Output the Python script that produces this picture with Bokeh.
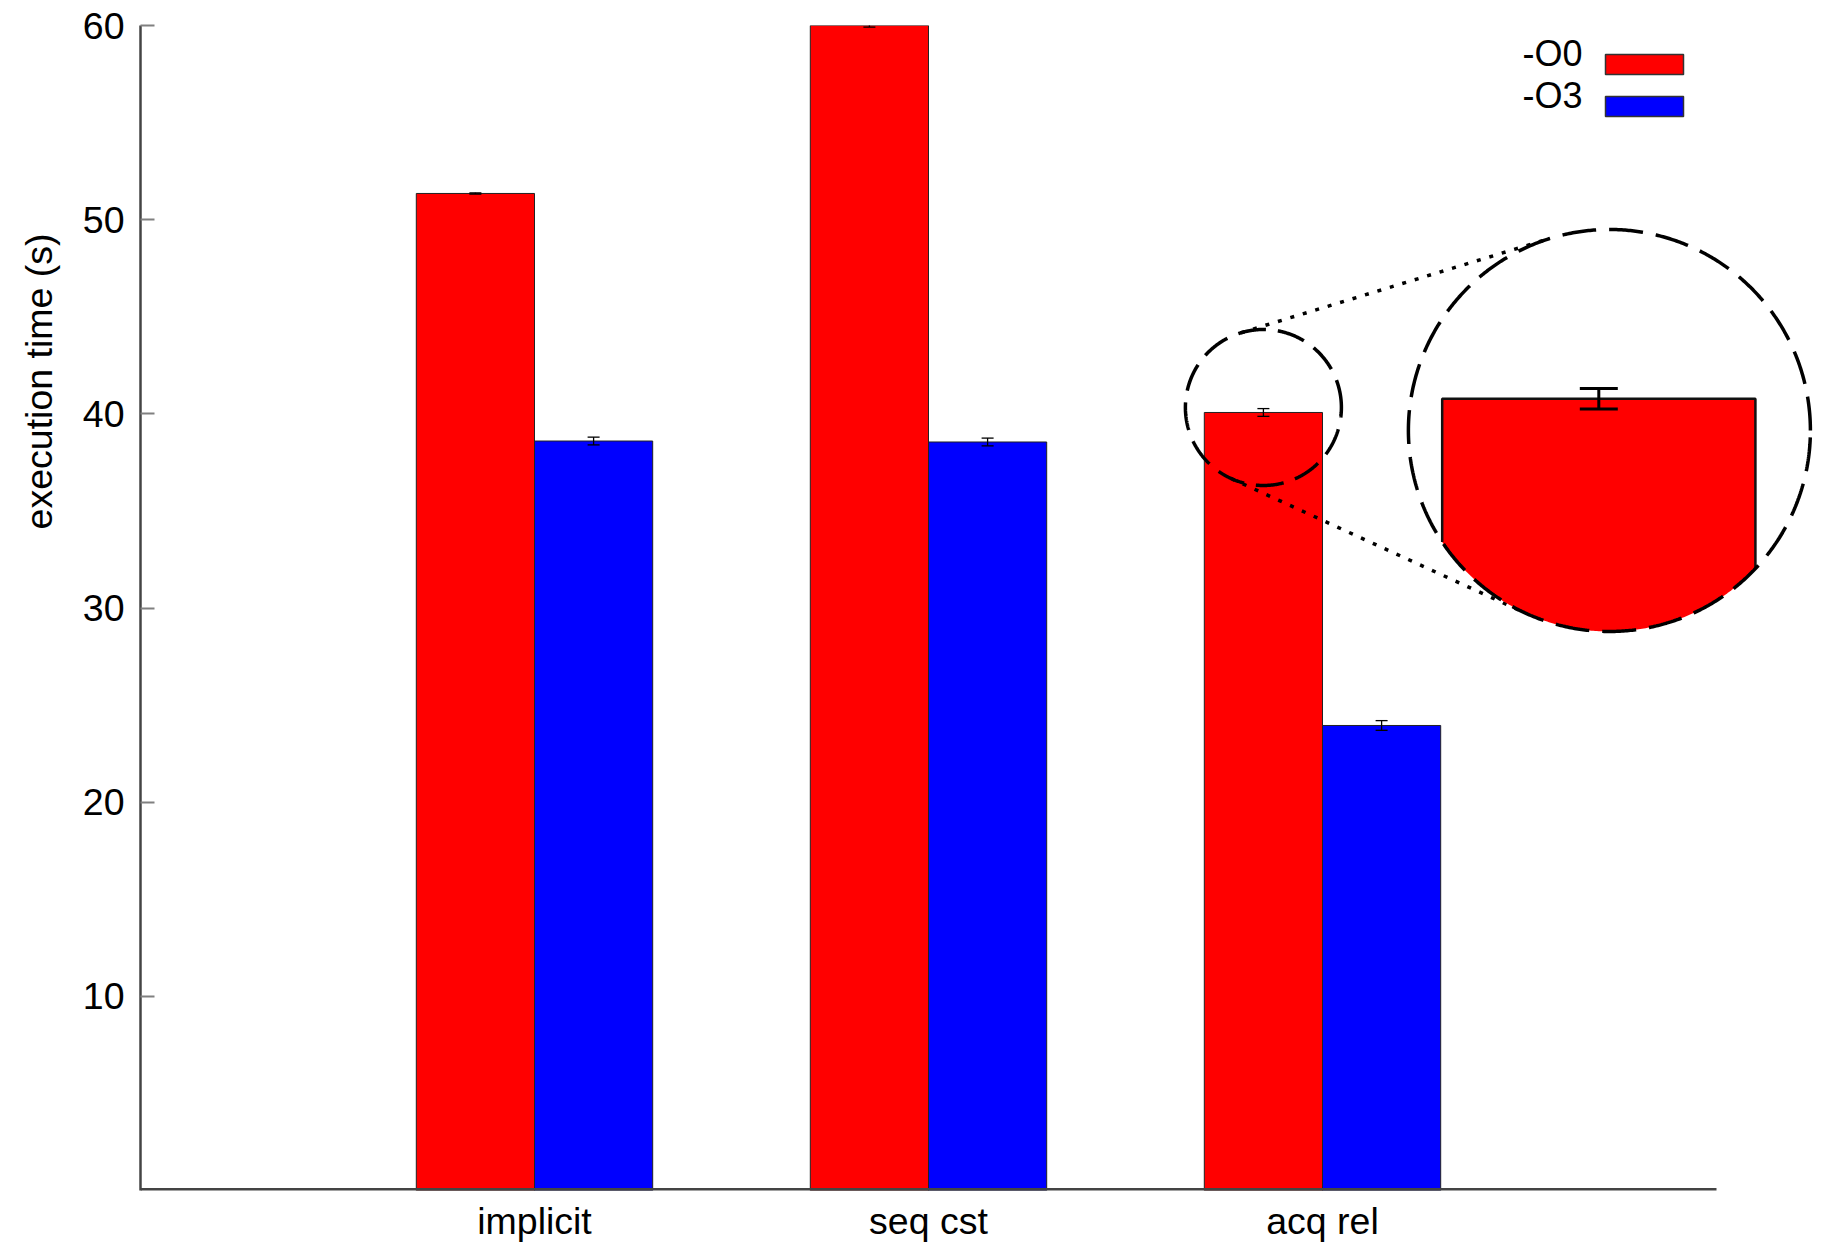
import numpy as np
from bokeh.plotting import figure
from bokeh.models import Range1d, FixedTicker, ColumnDataSource, Whisker, TeeHead, Title
from bokeh.core.properties import value
from bokeh.embed import file_html
from bokeh.resources import INLINE

# ---- data -------------------------------------------------------------
categories = ["implicit", "seq cst", "acq rel"]
series_names = ["-O0", "-O3"]
o0_time = [51.35, 60.0, 40.07]
o0_err = [0.03, 0.08, 0.2]
o3_time = [38.6, 38.55, 23.95]
o3_err = [0.2, 0.2, 0.25]
y_ticks = [10, 20, 30, 40, 50, 60]
y_label = "execution time (s)"

# ---- style / layout ---------------------------------------------------
FONT = "Liberation Sans"
AXIS_FONT_SIZE = "37.5px"
LEGEND_FONT_SIZE = "36px"
RED = "#ff0000"
BLUE = "#0000ff"
EDGE = "#222222"

PX_X = 394.0                 # pixels per category slot
FRAME_W = 1682
FRAME_H = 1165
Y_MAX = 60
PX_Y = FRAME_H / Y_MAX
X_END = FRAME_W / PX_X
BAR_W = 0.3
group_x = np.arange(1, len(categories) + 1, dtype=float)
BASE_END = len(categories) + 1

p = figure(frame_width=FRAME_W, frame_height=FRAME_H,
           x_range=Range1d(0, X_END), y_range=Range1d(0, Y_MAX),
           output_backend="svg", toolbar_location=None,
           min_border_left=140, min_border_top=25,
           min_border_right=0, min_border_bottom=5)
p.background_fill_color = "white"
p.border_fill_color = "white"
p.outline_line_color = None
p.grid.visible = False

# ---- bars -------------------------------------------------------------
x_o0 = group_x - BAR_W / 2
x_o3 = group_x + BAR_W / 2
p.vbar(x=x_o0, top=o0_time, bottom=0, width=BAR_W,
       fill_color=RED, line_color=EDGE, line_width=1)
p.vbar(x=x_o3, top=o3_time, bottom=0, width=BAR_W,
       fill_color=BLUE, line_color=EDGE, line_width=1)


def add_errors(xs, ys, errs, cap, lw):
    src = ColumnDataSource(dict(
        x=list(xs),
        upper=[y + e for y, e in zip(ys, errs)],
        lower=[y - e for y, e in zip(ys, errs)]))
    w = Whisker(base="x", upper="upper", lower="lower", source=src,
                dimension="height", line_color="black", line_width=lw,
                level="annotation",
                upper_head=TeeHead(size=cap, line_color="black", line_width=lw),
                lower_head=TeeHead(size=cap, line_color="black", line_width=lw))
    p.add_layout(w)


add_errors(x_o0, o0_time, o0_err, 12, 1.3)
add_errors(x_o3, o3_time, o3_err, 12, 1.3)

# baseline (x axis line stops after the last group slot)
p.segment(x0=[0], y0=[0], x1=[BASE_END], y1=[0], line_color="#444444", line_width=5)

# ---- axes -------------------------------------------------------------
p.yaxis.ticker = FixedTicker(ticks=y_ticks)
p.yaxis.axis_line_color = "#444444"
p.yaxis.axis_line_width = 2.5
p.yaxis.major_tick_in = 14
p.yaxis.major_tick_out = 0
p.yaxis.major_tick_line_color = "#808080"
p.yaxis.major_tick_line_width = 2
p.yaxis.minor_tick_line_color = None
p.yaxis.major_label_standoff = 16
p.yaxis.major_label_text_font = FONT
p.yaxis.major_label_text_font_size = AXIS_FONT_SIZE
p.yaxis.major_label_text_color = "black"

p.xaxis.ticker = FixedTicker(ticks=list(group_x))
p.xaxis.major_label_overrides = {float(g): c for g, c in zip(group_x, categories)}
p.xaxis.axis_line_color = None
p.xaxis.major_tick_line_color = None
p.xaxis.minor_tick_line_color = None
p.xaxis.major_label_standoff = 3
p.xaxis.major_label_text_font = FONT
p.xaxis.major_label_text_font_size = AXIS_FONT_SIZE
p.xaxis.major_label_text_color = "black"

# y axis title, placed toward the upper part of the axis
p.add_layout(Title(text=y_label, align="right", offset=208,
                   vertical_align="top",
                   text_font=FONT, text_font_size=AXIS_FONT_SIZE,
                   text_font_style="normal", text_color="black",
                   standoff=35), "left")

# ---- legend (label left of swatch) -----------------------------------
LEG_TEXT_RIGHT = 1442      # frame px from left
LEG_BOX_L, LEG_BOX_R = 1465, 1543
LEG_TOP0, LEG_ROW, LEG_BOX_H = 29, 42, 20   # px below the frame top
for i, (name, col) in enumerate(zip(series_names, [RED, BLUE])):
    top = FRAME_H - (LEG_TOP0 + i * LEG_ROW)
    bot = top - LEG_BOX_H
    p.quad(left=[LEG_BOX_L / PX_X], right=[LEG_BOX_R / PX_X],
           top=[top / PX_Y], bottom=[bot / PX_Y],
           fill_color=col, line_color="#333333", line_width=1.5)
    p.text(x=[LEG_TEXT_RIGHT / PX_X], y=[((top + bot) / 2 + 11) / PX_Y], text=[name],
           text_align="right", text_baseline="middle",
           text_font=value(FONT), text_font_size=LEGEND_FONT_SIZE, text_color="black")

# ---- magnifier on the acq rel / -O0 bar --------------------------------
k = 2
bar_cx = x_o0[k]
lens_c = np.array([bar_cx * PX_X, o0_time[k] * PX_Y + 5.0])
LENS_R = 78.0
INSET_R = 201.0
inset_c = lens_c + np.array([346.0, -23.0])
view_c = lens_c + np.array([4.0, -17.0])
MAG = 2.65


def mag(fx, fy):
    return inset_c[0] + MAG * (fx - view_c[0]), inset_c[1] + MAG * (fy - view_c[1])


def circle_pts(c, r, n=721):
    t = np.linspace(0, 2 * np.pi, n)
    return (c[0] + r * np.cos(t)) / PX_X, (c[1] + r * np.sin(t)) / PX_Y


# lens circle on the bar
lx, ly = circle_pts(lens_c, LENS_R)
p.line(lx, ly, line_color="black", line_width=3.5, line_dash="28 12")

# tangent connectors between lens and inset
d = inset_c - lens_c
D = np.hypot(*d)
phi = np.arctan2(d[1], d[0])
a = np.arccos((INSET_R - LENS_R) / D)
for psi in (phi + a, phi - a):
    n = np.array([np.cos(psi), np.sin(psi)])
    p1 = lens_c - LENS_R * n
    p2 = inset_c - INSET_R * n
    p.line([p1[0] / PX_X, p2[0] / PX_X], [p1[1] / PX_Y, p2[1] / PX_Y],
           line_color="black", line_width=3.5, line_dash="4 9")

# magnified bar, clipped to the inset circle
L, T = mag((bar_cx - BAR_W / 2) * PX_X, o0_time[k] * PX_Y)
R, _ = mag((bar_cx + BAR_W / 2) * PX_X, o0_time[k] * PX_Y)
yl = inset_c[1] - np.sqrt(INSET_R ** 2 - (L - inset_c[0]) ** 2)
yr = inset_c[1] - np.sqrt(INSET_R ** 2 - (R - inset_c[0]) ** 2)
thL = np.arctan2(yl - inset_c[1], L - inset_c[0])
thR = np.arctan2(yr - inset_c[1], R - inset_c[0])
arc = np.linspace(thR, thL, 200)
px_ = [L, R, R] + list(inset_c[0] + INSET_R * np.cos(arc)) + [L]
py_ = [T, T, yr] + list(inset_c[1] + INSET_R * np.sin(arc)) + [yl]
p.patch(np.array(px_) / PX_X, np.array(py_) / PX_Y, fill_color=RED, line_color=None)
p.line(np.array([L, L, R, R]) / PX_X, np.array([yl, T, T, yr]) / PX_Y,
       line_color="#111111", line_width=2.5)

ex, eu = mag(bar_cx * PX_X, (o0_time[k] + o0_err[k]) * PX_Y)
_, el = mag(bar_cx * PX_X, (o0_time[k] - o0_err[k]) * PX_Y)
esrc = ColumnDataSource(dict(x=[ex / PX_X], upper=[eu / PX_Y], lower=[el / PX_Y]))
p.add_layout(Whisker(base="x", upper="upper", lower="lower", source=esrc,
                     dimension="height", line_color="black", line_width=3,
                     level="annotation",
                     upper_head=TeeHead(size=38, line_color="black", line_width=3),
                     lower_head=TeeHead(size=38, line_color="black", line_width=3)))

ix, iy = circle_pts(inset_c, INSET_R)
p.line(ix, iy, line_color="black", line_width=3.5, line_dash="34 13")

open("out.html", "w").write(file_html(p, INLINE))
